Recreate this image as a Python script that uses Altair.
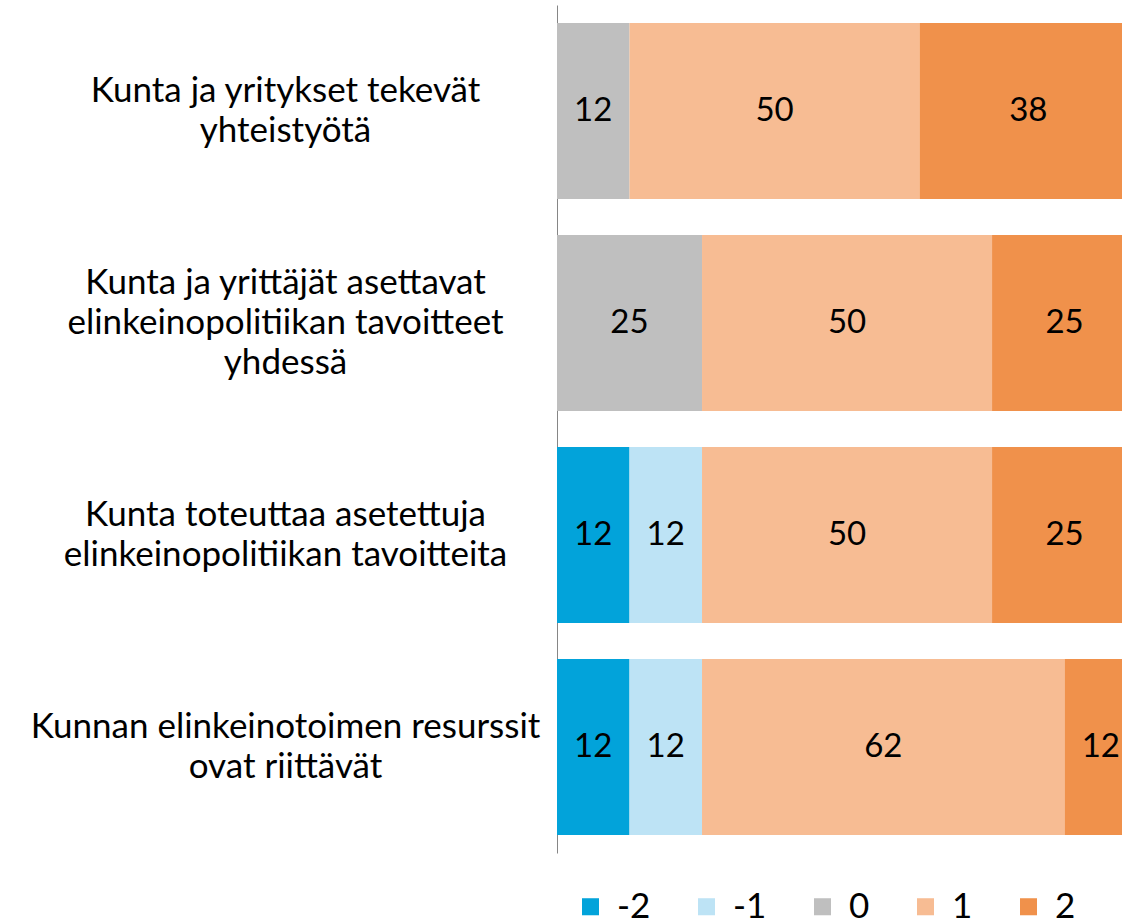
import altair as alt
import pandas as pd

categories = [
    "Kunta ja yritykset tekevät|yhteistyötä",
    "Kunta ja yrittäjät asettavat|elinkeinopolitiikan tavoitteet|yhdessä",
    "Kunta toteuttaa asetettuja|elinkeinopolitiikan tavoitteita",
    "Kunnan elinkeinotoimen resurssit|ovat riittävät",
]
levels = ["-2", "-1", "0", "1", "2"]
colors = ["#02A3DA", "#BDE3F5", "#BFBFBF", "#F7BC93", "#F0914B"]

v_m2 = [0, 0, 12.5, 12.5]
v_m1 = [0, 0, 12.5, 12.5]
v_0 = [12.5, 25, 0, 0]
v_1 = [50, 50, 50, 62.5]
v_2 = [37.5, 25, 25, 12.5]
series = [v_m2, v_m1, v_0, v_1, v_2]

rows = []
for li, (lvl, vals) in enumerate(zip(levels, series)):
    for ci, (cat, v) in enumerate(zip(categories, vals)):
        if v > 0:
            rows.append({"cat": cat, "level": lvl, "order": li, "value": v,
                         "label": str(round(v))})
df = pd.DataFrame(rows)

FONT = "Lato"

base = alt.Chart(df).transform_stack(
    stack="value", groupby=["cat"], sort=[alt.SortField("order")], as_=["x0", "x1"]
).transform_calculate(mid="(datum.x0 + datum.x1) / 2")

yenc = alt.Y(
    "cat:N", sort=categories, title=None,
    scale=alt.Scale(paddingInner=0.17, paddingOuter=0.085),
    axis=alt.Axis(
        labelExpr="split(datum.label, '|')",
        labelAlign="center", labelBaseline="middle", labelPadding=272,
        labelFontSize=35, labelFont=FONT, labelColor="#000000",
        labelLineHeight=40, labelLimit=0,
        labelOffset={"condition": {"test": "length(split(datum.value, '|')) == 3",
                                   "value": -40}, "value": -20},
        ticks=False, domain=True, domainColor="#868686", domainWidth=1,
        grid=False,
    ),
)

xscale = alt.Scale(domain=[0, 97.4], nice=False, zero=False)

bars = base.mark_bar(clip=True, strokeWidth=0).encode(
    y=yenc,
    x=alt.X("x0:Q", scale=xscale, axis=None),
    x2="x1:Q",
    color=alt.Color(
        "level:N",
        scale=alt.Scale(domain=levels, range=colors),
        legend=alt.Legend(
            title=None, orient="none", direction="horizontal", columns=5,
            legendX=16, legendY=884, padding=0,
            symbolType="square", symbolSize=290, symbolStrokeWidth=0,
            labelFontSize=35, labelFont=FONT, labelColor="#000000",
            labelOffset=9, columnPadding=38,
        ),
    ),
)

texts = base.mark_text(fontSize=33, font=FONT, color="#000000",
                       align="center", baseline="middle").encode(
    y=alt.Y("cat:N", sort=categories),
    x=alt.X("mid:Q", scale=xscale),
    text="label:N",
)

chart = (bars + texts).properties(
    width=565, height=848,
    autosize=alt.AutoSizeParams(type="none"),
    padding={"left": 557, "top": 5, "right": 0, "bottom": 68},
).configure_view(stroke=None)

chart.save("out.html", embed_options={"renderer": "svg", "actions": False})
